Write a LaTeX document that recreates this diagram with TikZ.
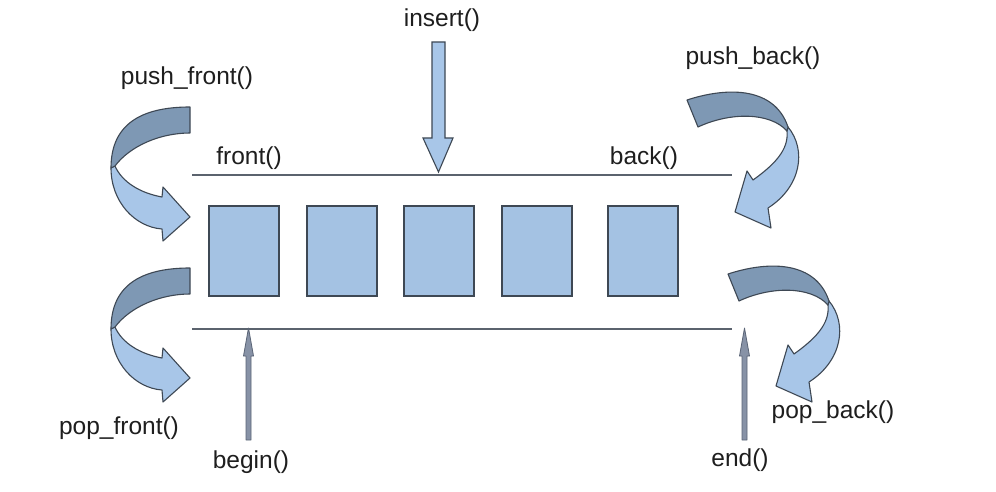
\documentclass[tikz,border=0pt]{standalone}
\usepackage{fontspec}
\setmainfont{Liberation Sans}
\definecolor{boxfill}{RGB}{164,194,227}
\definecolor{lightfill}{RGB}{168,198,232}
\definecolor{darkfill}{RGB}{126,152,180}
\definecolor{edgecol}{RGB}{62,72,84}
\definecolor{greyarrow}{RGB}{135,146,166}
\definecolor{greyedge}{RGB}{90,100,118}
\definecolor{txt}{RGB}{30,30,30}
\tikzset{
  cell/.style={draw=edgecol, line width=1.6pt, fill=boxfill, minimum width=70pt, minimum height=90pt, inner sep=0pt},
  lbl/.style={font=\fontsize{24.5}{27}\selectfont, text=txt, inner sep=0pt},
  rail/.style={draw=edgecol!85, line width=1.4pt},
  bandlight/.style={draw=edgecol, line width=1.1pt, line join=round, fill=lightfill},
  banddark/.style={draw=edgecol, line width=1.1pt, line join=round, fill=darkfill},
  thinarrow/.style={draw=greyedge, line width=0.8pt, fill=greyarrow, line join=round},
  blockarrow/.style={draw=edgecol, line width=1.1pt, fill=lightfill, line join=miter}
}
\begin{document}
\begin{tikzpicture}[x=1pt,y=-1pt]
\useasboundingbox (0,0) rectangle (996,492);
\fill[white] (0,0) rectangle (996,492);

% labels
\node[lbl] (insertl) at (442,20) {insert()};
\node[lbl] (pushf) at (187,78) {push\_front()};
\node[lbl] (pushb) at (753,58) {push\_back()};
\node[lbl] (frontl) at (249,158) {front()};
\node[lbl] (backl) at (644,158) {back()};
\node[lbl] (popf) at (119,428) {pop\_front()};
\node[lbl] (popb) at (833,412) {pop\_back()};
\node[lbl] (beginl) at (251,462) {begin()};
\node[lbl] (endl) at (740,460) {end()};

% rails
\coordinate (tl) at (192,175);
\coordinate (tr) at (732,175);
\coordinate (bl) at (192,329);
\coordinate (br) at (732,329);
\draw[rail] (tl) -- (tr);
\draw[rail] (bl) -- (br);

% cells
\node[cell] (c1) at (244,251) {};
\node[cell] (c2) at (342,251) {};
\node[cell] (c3) at (439,251) {};
\node[cell] (c4) at (537,251) {};
\node[cell] (c5) at (643,251) {};

% insert arrow
\draw[blockarrow] (432,42) -- (445,42) -- (445,138) -- (453,138) -- (438.5,172) -- (423,138) -- (432,138) -- cycle;

% begin / end arrows
\foreach \cx in {248.5,744.5}{
  \draw[thinarrow] (\cx-2.5,440) -- (\cx+2.5,440) -- (\cx+2.5,356) -- (\cx+5,356) -- (\cx,328) -- (\cx-5,356) -- (\cx-2.5,356) -- cycle;
}

% front curved arrows (push_front, pop_front)
\foreach \dy in {0,161}{
\begin{scope}[yshift=-\dy pt]
  \draw[bandlight] (111,168) .. controls (111,202) and (135,227) .. (162,229) -- (163,241) -- (190,217) -- (163,187) -- (162,197) .. controls (140,193) and (122,182) .. (115,166) -- cycle;
  \draw[banddark] (190,107) .. controls (140,107) and (111,125) .. (111,168) -- (115,166) .. controls (130,146) and (160,133) .. (190,133) -- cycle;
\end{scope}
}

% back curved arrows (push_back, pop_back)
\foreach \dx/\dy in {0/0,41/174}{
\begin{scope}[xshift=\dx pt, yshift=-\dy pt]
  \draw[bandlight] (788,127) .. controls (807,150) and (801,187) .. (768,208) -- (771,228) -- (735,212) -- (747,171) -- (753,180) .. controls (774,165) and (789,150) .. (787,131) -- cycle;
  \draw[banddark] (687,100) .. controls (730,86) and (775,88) .. (788,127) -- (787,131) .. controls (770,112) and (730,112) .. (698,127) -- cycle;
\end{scope}
}
\end{tikzpicture}
\end{document}
